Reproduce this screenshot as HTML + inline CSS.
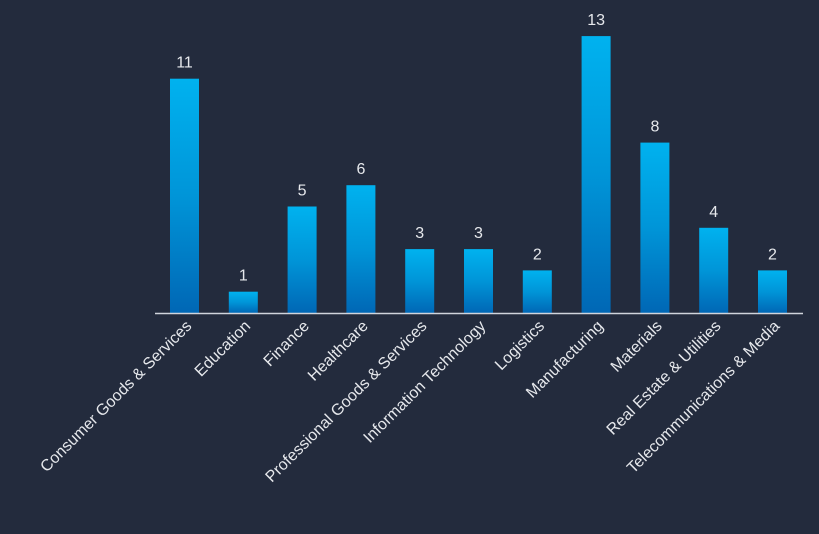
<!DOCTYPE html>
<html><head><meta charset="utf-8"><style>
html,body{margin:0;padding:0;background:#232b3d;}
svg{display:block;font-family:"Liberation Sans",sans-serif;}
</style></head><body>
<svg id="chart" width="819" height="534">
<defs><linearGradient id="g" x1="0" y1="0" x2="0" y2="1"><stop offset="0" stop-color="#00b2ef"/><stop offset="0.5" stop-color="#0095d8"/><stop offset="1" stop-color="#0067b5"/></linearGradient></defs>
<rect width="819" height="534" fill="#232b3d"/>
<g id="bars"></g>
<line x1="155" y1="313.5" x2="803" y2="313.5" stroke="#d0d4dc" stroke-width="1.5"/>
</svg>
<script>
const categories=["Consumer Goods & Services","Education","Finance","Healthcare","Professional Goods & Services","Information Technology","Logistics","Manufacturing","Materials","Real Estate & Utilities","Telecommunications & Media"];
const values=[11,1,5,6,3,3,2,13,8,4,2];
const NS="http://www.w3.org/2000/svg";
const g=document.getElementById("bars");
const x0=170,step=58.8,bw=29,base=313,unit=21.3;
function xPos(i){return x0+i*step;}
function yPos(v){return base-v*unit;}
categories.forEach((c,i)=>{
  const v=values[i];
  const r=document.createElementNS(NS,"rect");
  r.setAttribute("x",xPos(i));r.setAttribute("y",yPos(v));
  r.setAttribute("width",bw);r.setAttribute("height",base-yPos(v));
  r.setAttribute("fill","url(#g)");
  
  
  g.appendChild(r);
  const t=document.createElementNS(NS,"text");
  t.setAttribute("x",xPos(i)+bw/2);t.setAttribute("y",yPos(v)-11);
  t.setAttribute("text-anchor","middle");t.setAttribute("fill","#e6e8ec");t.setAttribute("font-size","16");
  t.textContent=v;
  
  
  g.appendChild(t);
  const l=document.createElementNS(NS,"text");
  const lx=xPos(i)+bw/2+8,ly=327;
  l.setAttribute("x",lx);l.setAttribute("y",ly);
  l.setAttribute("text-anchor","end");l.setAttribute("fill","#e6e8ec");l.setAttribute("font-size","16");
  l.setAttribute("transform","rotate(-45 "+lx+" "+ly+")");
  l.textContent=c;
  
  
  g.appendChild(l);
});
</script>
</body></html>
